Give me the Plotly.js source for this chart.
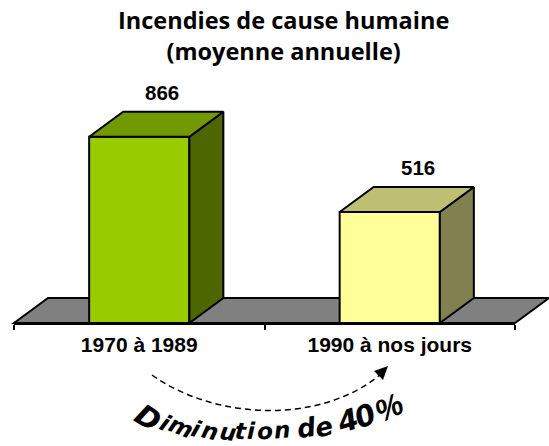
<!DOCTYPE html>
<html><head><meta charset="utf-8">
<script src="https://cdn.plot.ly/plotly-3.0.1.min.js"></script>
<style>html,body{margin:0;padding:0;background:#fff}</style></head>
<body><div id="chart" style="width:549px;height:446px"></div>
<script>
const categories = ['1970 à 1989', '1990 à nos jours'];
const values = [866, 516];
const frontColors = ['#99CC00', '#FFFF99'];
const topColors = ['#739900', '#BFBF73'];
const sideColors = ['#4D6600', '#808050'];
const labelShift = [23, 28];
const banner = ['D','i','m','i','n','u','t','i','o','n','d','e','4','0','%'];
const bannerX = [148,165,181,196,210,228,241,251,265,282,306,324,347,365,389];
const bannerY = [418,423,427,429,431,432,431,431,431,430,428,427,421,416,407];
const bannerA = [32,26,22,18,14,9,5,2,-1,-4,-9,-13,-18,-23,-25];
const bannerS = [29,23,23,23,23,23,23,23,23,23,26,26,29,29,31];

const W=549,H=446,L=14,R=34,T=108,B=123;
const px=x=>(x-L)/(W-L-R), py=y=>(H-B-y)/(H-T-B);
const barWidth=0.4, depthX=34/250.5, depthY=25/0.215;
const traces=[{type:'bar',x:categories,y:values,width:barWidth,
  marker:{color:frontColors,line:{color:'#000',width:2}},hoverinfo:'skip'}];
values.forEach((v,i)=>{
  const a=i-barWidth/2,b=i+barWidth/2;
  traces.push({type:'scatter',mode:'lines',x:[b,b+depthX,b+depthX,b,b],y:[0,depthY,v+depthY,v,0],
    xaxis:'x2',fill:'toself',fillcolor:sideColors[i],line:{color:'#000',width:2},hoverinfo:'skip'});
  traces.push({type:'scatter',mode:'lines',x:[a,a+depthX,b+depthX,b,a],y:[v,v+depthY,v+depthY,v,v],
    xaxis:'x2',fill:'toself',fillcolor:topColors[i],line:{color:'#000',width:2},hoverinfo:'skip'});
});
const ann=values.map((v,i)=>({x:categories[i],y:v,xref:'x',yref:'y',text:'<b>'+v+'</b>',showarrow:false,
  xanchor:'center',yanchor:'bottom',xshift:labelShift[i],yshift:31,font:{family:'Liberation Sans',size:20.5,color:'#000'}}));
ann.push({xref:'paper',yref:'paper',x:px(283),y:py(35),xanchor:'center',yanchor:'middle',
  text:'<b>Incendies de cause humaine<br>(moyenne annuelle)</b>',
  showarrow:false,font:{family:'Open Sans',size:23.5,color:'#000'}});
banner.forEach((c,i)=>ann.push({xref:'paper',yref:'paper',x:px(bannerX[i]),y:py(bannerY[i]),xanchor:'center',yanchor:'middle',
  text:'<b><i>'+c+'</i></b>',
  showarrow:false,textangle:bannerA[i],font:{family:c==='%'?'Liberation Sans':'DejaVu Sans',size:bannerS[i],color:'#000'}}));
const layout={width:W,height:H,showlegend:false,paper_bgcolor:'#fff',plot_bgcolor:'rgba(0,0,0,0)',
  margin:{l:L,r:R,t:T,b:B,pad:0},
  xaxis:{type:'category',categories:categories,range:[-0.5,1.5],tickson:'boundaries',ticks:'outside',ticklen:5,tickwidth:2,
    tickcolor:'#000',showline:true,linecolor:'#000',linewidth:2,showgrid:false,zeroline:false,ticklabelstandoff:2,
    tickfont:{family:'Liberation Sans',size:21,color:'#000'},tickprefix:'<b>',ticksuffix:'</b>'},
  xaxis2:{overlaying:'x',range:[-0.5,1.5],visible:false},
  yaxis:{range:[0,1000],visible:false,showgrid:false,zeroline:false},
  annotations:ann,
  shapes:[
   {type:'path',layer:'below',xref:'paper',yref:'paper',
    path:`M${px(14)},${py(323)} L${px(48)},${py(298)} L${px(549)},${py(298)} L${px(515)},${py(323)} Z`,
    fillcolor:'#808080',line:{color:'#000',width:2}},
   {type:'path',xref:'paper',yref:'paper',
    path:`M${px(152)},${py(375)} C${px(215)},${py(420)} ${px(320)},${py(425)} ${px(381)},${py(374)}`,
    line:{color:'#000',width:1.5,dash:'6px,4px'}},
   {type:'path',xref:'paper',yref:'paper',
    path:`M${px(388)},${py(366)} L${px(374)},${py(371)} L${px(383)},${py(380)} Z`,
    fillcolor:'#000',line:{color:'#000',width:0}}
  ]};
Plotly.newPlot('chart',traces,layout,{displayModeBar:false,staticPlot:true});
</script></body></html>
